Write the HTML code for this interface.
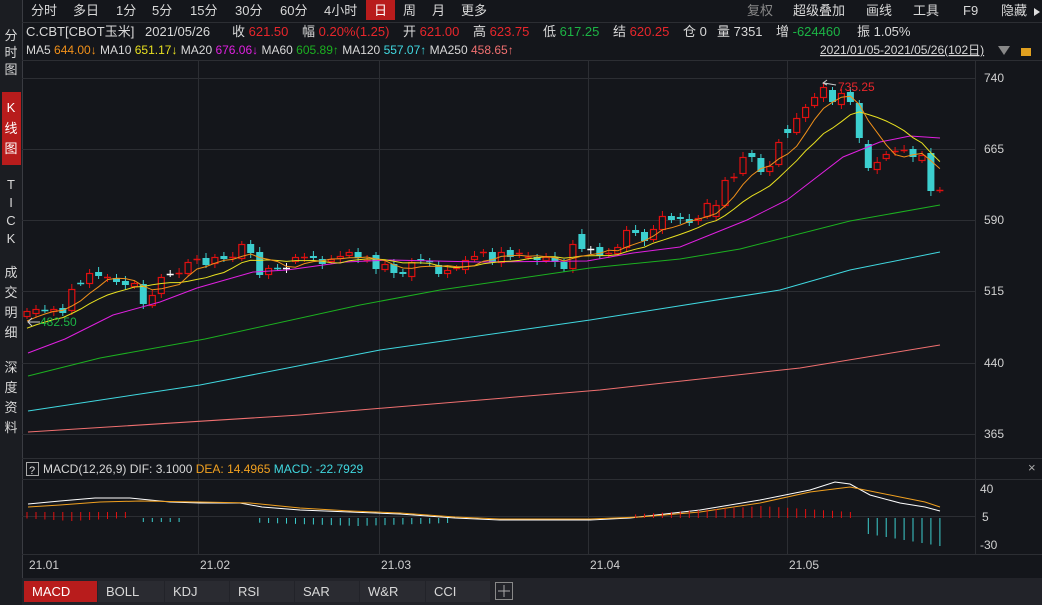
<!DOCTYPE html>
<html><head><meta charset="utf-8">
<style>
html,body{margin:0;padding:0;background:#14161b;width:1042px;height:605px;overflow:hidden;font-family:"Liberation Sans","Noto Sans CJK SC",sans-serif;}
svg text{font-family:"Liberation Sans","Noto Sans CJK SC",sans-serif;}
</style></head>
<body>
<svg id="s" width="1042" height="605" xmlns="http://www.w3.org/2000/svg">
<rect x="0" y="0" width="1042" height="605" fill="#14161b"/>
<rect x="0" y="0" width="22" height="605" fill="#1b1d22"/>
<line x1="22.5" y1="0" x2="22.5" y2="578" stroke="#3a3c42"/>
<rect x="2" y="92" width="19" height="73" fill="#b81c1c"/>
<g fill="#d8d8d8" font-size="13" text-anchor="middle">
<text x="11" y="40">分</text><text x="11" y="57">时</text><text x="11" y="74">图</text>
<text x="11" y="112" fill="#fff">K</text><text x="11" y="133" fill="#fff">线</text><text x="11" y="153" fill="#fff">图</text>
<text x="11" y="189">T</text><text x="11" y="207">I</text><text x="11" y="225">C</text><text x="11" y="243">K</text>
<text x="11" y="277">成</text><text x="11" y="297">交</text><text x="11" y="317">明</text><text x="11" y="337">细</text>
<text x="11" y="372">深</text><text x="11" y="392">度</text><text x="11" y="412">资</text><text x="11" y="432">料</text>
</g>
<rect x="366" y="0" width="29" height="20" fill="#b81c1c"/>
<g fill="#d8d8d8" font-size="13">
<text x="31" y="15">分时</text><text x="73" y="15">多日</text><text x="116" y="15">1分</text><text x="152" y="15">5分</text>
<text x="190" y="15">15分</text><text x="235" y="15">30分</text><text x="280" y="15">60分</text><text x="324" y="15">4小时</text>
<text x="374" y="15" fill="#fff">日</text><text x="403" y="15">周</text><text x="432" y="15">月</text><text x="461" y="15">更多</text>
<text x="747" y="15" fill="#888">复权</text><text x="793" y="15">超级叠加</text><text x="866" y="15">画线</text><text x="913" y="15">工具</text>
<text x="963" y="15">F9</text><text x="1001" y="15">隐藏</text>
</g>
<polygon points="1034,8 1040,12 1034,16" fill="#ddd"/>
<line x1="22" y1="22.5" x2="1042" y2="22.5" stroke="#2c2e33"/>
<g font-size="13" fill="#d8d8d8">
<text x="26" y="36">C.CBT[CBOT玉米]</text><text x="145" y="36">2021/05/26</text>
<text x="232" y="36">收 <tspan fill="#e8262b">621.50</tspan></text>
<text x="302" y="36">幅 <tspan fill="#e8262b">0.20%(1.25)</tspan></text>
<text x="403" y="36">开 <tspan fill="#e8262b">621.00</tspan></text>
<text x="473" y="36">高 <tspan fill="#e8262b">623.75</tspan></text>
<text x="543" y="36">低 <tspan fill="#1cb445">617.25</tspan></text>
<text x="613" y="36">结 <tspan fill="#e8262b">620.25</tspan></text>
<text x="683" y="36">仓 0</text><text x="717" y="36">量 7351</text>
<text x="776" y="36">增 <tspan fill="#1cb445">-624460</tspan></text>
<text x="857" y="36">振 1.05%</text>
</g>
<g font-size="12" fill="#d8d8d8">
<text x="26" y="54">MA5 <tspan fill="#f0901a">644.00↓</tspan> MA10 <tspan fill="#e8e020">651.17↓</tspan> MA20 <tspan fill="#e020e0">676.06↓</tspan> MA60 <tspan fill="#1cb020">605.89↑</tspan> MA120 <tspan fill="#40d8e0">557.07↑</tspan> MA250 <tspan fill="#f07070">458.65↑</tspan></text>
<text x="820" y="54" text-decoration="underline">2021/01/05-2021/05/26(102日)</text>
</g>
<polygon points="998,46 1010,46 1004,55" fill="#888"/>
<rect x="1021" y="48" width="10" height="8" fill="#e0a020"/>
<g stroke="#2c2e33" fill="none">
<line x1="22" y1="60.5" x2="1042" y2="60.5"/>
<line x1="975.5" y1="60" x2="975.5" y2="555"/>
<line x1="22" y1="458.5" x2="1042" y2="458.5"/>
<line x1="22" y1="479.5" x2="1042" y2="479.5"/>
<line x1="22" y1="554.5" x2="1042" y2="554.5"/>
<line x1="22" y1="78.5" x2="975" y2="78.5"/><line x1="22" y1="149.5" x2="975" y2="149.5"/>
<line x1="22" y1="220.5" x2="975" y2="220.5"/><line x1="22" y1="291.5" x2="975" y2="291.5"/>
<line x1="22" y1="363.5" x2="975" y2="363.5"/><line x1="22" y1="434.5" x2="975" y2="434.5"/>
<line x1="22" y1="516.5" x2="975" y2="516.5"/>
<line x1="198.5" y1="60" x2="198.5" y2="555"/><line x1="379.5" y1="60" x2="379.5" y2="555"/>
<line x1="588.5" y1="60" x2="588.5" y2="555"/><line x1="787.5" y1="60" x2="787.5" y2="555"/>
</g>
<g fill="#d0d0d0" font-size="12">
<text x="984" y="82">740</text><text x="984" y="153">665</text><text x="984" y="224">590</text>
<text x="984" y="295">515</text><text x="984" y="367">440</text><text x="984" y="438">365</text>
<text x="980" y="493">40</text><text x="982" y="521">5</text><text x="980" y="549">-30</text>
</g>
<rect x="26.5" y="462.5" width="12" height="13" fill="none" stroke="#aaa"/>
<text x="29" y="474" font-size="11" fill="#ddd">?</text>
<text x="43" y="473" font-size="12" fill="#d8d8d8">MACD(12,26,9)  DIF: 3.1000  <tspan fill="#f0a020">DEA: 14.4965</tspan>  <tspan fill="#40d8e0">MACD: -22.7929</tspan></text>
<text x="1028" y="472" font-size="13" fill="#aaa">×</text>
<g fill="#d0d0d0" font-size="12">
<text x="29" y="569">21.01</text><text x="200" y="569">21.02</text><text x="381" y="569">21.03</text>
<text x="590" y="569">21.04</text><text x="789" y="569">21.05</text>
</g>
<rect x="22" y="578" width="1020" height="27" fill="#222329"/>
<g font-size="13" fill="#d8d8d8">
<rect x="24" y="581" width="73" height="21" fill="#b81c1c"/>
<rect x="98" y="581" width="66" height="21" fill="#2a2b31"/><rect x="165" y="581" width="64" height="21" fill="#2a2b31"/>
<rect x="230" y="581" width="64" height="21" fill="#2a2b31"/><rect x="295" y="581" width="64" height="21" fill="#2a2b31"/>
<rect x="360" y="581" width="65" height="21" fill="#2a2b31"/><rect x="426" y="581" width="64" height="21" fill="#2a2b31"/>
<text x="32" y="596" fill="#fff">MACD</text><text x="106" y="596">BOLL</text><text x="173" y="596">KDJ</text>
<text x="238" y="596">RSI</text><text x="303" y="596">SAR</text><text x="368" y="596">W&amp;R</text><text x="434" y="596">CCI</text>
<rect x="495.5" y="582.5" width="17" height="17" fill="none" stroke="#888"/>
<line x1="504" y1="585" x2="504" y2="597" stroke="#aaa"/><line x1="498" y1="591" x2="510" y2="591" stroke="#aaa"/>
</g>
<g id="chart"></g>
</svg>
<script>
var B=[[311,316,'r'],[309,313,'r'],[310,310,'c'],[309,311,'r'],[308,313,'c'],[289,310,'r'],[283,283,'c'],[273,283,'r'],[272,276,'c'],[277,277,'r'],[278,282,'c'],[281,285,'c'],[283,286,'r'],[284,304,'c'],[295,305,'r'],[277,293,'r'],[274,274,'w'],[273,273,'r'],[262,273,'r'],[259,259,'r'],[258,265,'c'],[257,263,'r'],[256,259,'c'],[257,257,'r'],[244,258,'r'],[244,253,'c'],[252,275,'c'],[268,274,'r'],[268,268,'c'],[268,268,'w'],[257,261,'r'],[257,257,'r'],[256,258,'c'],[259,264,'c'],[259,261,'r'],[256,258,'r'],[252,255,'r'],[252,258,'c'],[260,260,'r'],[255,269,'c'],[264,269,'r'],[264,273,'c'],[272,274,'c'],[262,276,'r'],[259,261,'c'],[261,261,'c'],[265,274,'c'],[270,273,'r'],[268,268,'r'],[260,269,'r'],[256,259,'r'],[252,252,'r'],[252,262,'c'],[252,262,'r'],[250,257,'c'],[253,253,'r'],[257,257,'r'],[257,260,'c'],[257,260,'r'],[257,262,'c'],[262,269,'c'],[244,268,'r'],[234,249,'c'],[249,249,'w'],[247,256,'c'],[253,253,'r'],[247,253,'r'],[230,247,'r'],[230,233,'c'],[232,241,'c'],[229,239,'r'],[216,229,'r'],[216,220,'c'],[217,219,'c'],[219,223,'c'],[218,220,'r'],[203,216,'r'],[205,216,'r'],[180,205,'r'],[177,177,'r'],[157,173,'r'],[153,157,'c'],[158,172,'c'],[166,171,'r'],[142,164,'r'],[129,133,'c'],[118,132,'r'],[107,117,'r'],[97,105,'r'],[87,97,'r'],[90,102,'c'],[93,104,'r'],[92,102,'c'],[103,138,'c'],[144,168,'c'],[162,169,'r'],[154,158,'r'],[151,151,'r'],[150,150,'r'],[149,157,'c'],[155,160,'r'],[153,191,'c'],[190,190,'r']];
var g='';var col={r:'#e01010',c:'#3ccfcf',w:'#ffffff'};
var closes=[];
function X(i){return 27+i*8.95;}
for(var i=0;i<B.length;i++){var b=B[i],x=X(i),c=col[b[2]];var h=b[1]-b[0];
 var hi=b[0]-3-(i%3),lo=b[1]+3+(i%2)*2;
 g+='<line x1="'+x.toFixed(1)+'" y1="'+hi+'" x2="'+x.toFixed(1)+'" y2="'+lo+'" stroke="'+c+'"/>';
 if(h<1){g+='<line x1="'+(x-3.5).toFixed(1)+'" y1="'+b[0]+'.5" x2="'+(x+3.5).toFixed(1)+'" y2="'+b[0]+'.5" stroke="'+c+'" stroke-width="1.5"/>';}
 else if(b[2]=='r'){g+='<rect x="'+(x-3).toFixed(1)+'" y="'+(b[0]+0.5)+'" width="6" height="'+h+'" fill="#14161b" stroke="'+c+'" stroke-width="1.2"/>';}
 else{g+='<rect x="'+(x-3.5).toFixed(1)+'" y="'+b[0]+'" width="7" height="'+h+'" fill="'+c+'"/>';}
 closes.push(b[2]=='r'?b[0]:b[1]);}
var pre=[345,342,338,335,332,330,328,326,322,318];var all=pre.concat(closes);
function ma(n){var p=[];for(var i=0;i<closes.length;i++){var s=0,k=0;for(var j=i+pre.length;j>i+pre.length-n&&j>=0;j--){s+=all[j];k++;}p.push(X(i).toFixed(1)+','+(s/k).toFixed(1));}return p.join(' ');}
function pl(pts,c){return '<polyline points="'+pts+'" fill="none" stroke="'+c+'" stroke-width="1"/>';}
g+=pl('28,432 300,415 600,390 800,368 940,345','#f07070');
g+=pl('28,411 200,385 380,350 590,320 780,290 850,270 940,252','#40d8e0');
g+=pl('28,376 100,358 205,339 360,305 440,290 590,268 680,259 740,249 850,221 940,205','#1cb020');
g+=pl('28,353 65,339 113,315 160,302 197,288 253,272 287,270 345,262 390,260 480,262 587,261 633,253 680,247 747,220 787,200 843,157 880,142 910,136 940,138','#e020e0');
g+=pl(ma(10),'#e8e020');g+=pl(ma(5),'#f0901a');
g+='<text x="40" y="326" font-size="12" fill="#1cb445">482.50</text><line x1="28" y1="322" x2="40" y2="322" stroke="#ccc"/><polyline points="32,318 28,322 32,326" fill="none" stroke="#ccc"/>';
g+='<text x="838" y="91" font-size="12" fill="#e8262b">735.25</text><line x1="824" y1="83" x2="836" y2="85" stroke="#ccc"/><polyline points="827,80 823,83 827,85" fill="none" stroke="#ccc"/>';
g+=pl('28,504 60,501 95,498 130,498 150,500 170,502 200,503 240,503 262,507 300,510 350,512 400,514 455,518 500,520 590,520 630,518 700,510 760,500 810,490 835,482 850,484 870,495 900,503 925,507 940,511','#ffffff');
g+=pl('28,507 60,505 100,502 140,501 200,502 250,503 300,508 350,511 400,513 455,517 500,519 590,519 640,517 700,512 760,503 810,492 850,487 870,491 900,497 925,502 940,507','#f0a020');
for(var i=0;i<B.length;i++){var x=X(i).toFixed(1),y1,y2,c;
 if(i<12){c='#e01010';y1=512;y2=521-Math.abs(i-5)*0.5;}
 else if(i>=13&&i<18){c='#3ccfcf';y1=518;y2=522;}
 else if(i>=26&&i<48){c='#3ccfcf';y1=518;y2=522+Math.max(0,4-Math.abs(i-37)*0.3);}
 else if(i>=68&&i<93){c='#e01010';y1=516-Math.max(1,10-Math.abs(i-82)*0.6);y2=518;}
 else if(i>=94){c='#3ccfcf';y1=518;y2=534+(i-94)*1.5;}
 else continue;
 g+='<line x1="'+x+'" y1="'+y1+'" x2="'+x+'" y2="'+y2+'" stroke="'+c+'"/>';}
document.getElementById('chart').innerHTML=g;
</script>
</body></html>
